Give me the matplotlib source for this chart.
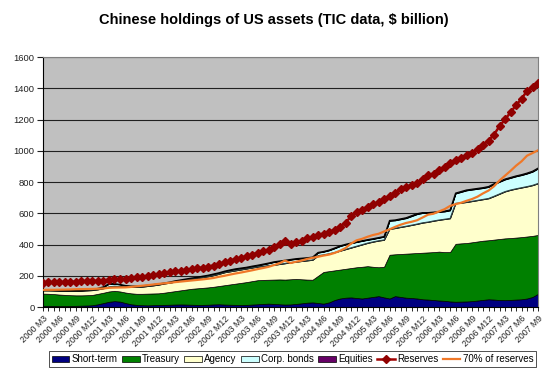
import numpy as np
import matplotlib
matplotlib.use('Agg')
import matplotlib.pyplot as plt

plt.rcParams['font.family'] = ['Liberation Sans', 'DejaVu Sans']

# monthly, 2000 M3 .. 2007 M9
months = []
for y in range(2000, 2008):
    for m in range(1, 13):
        if (y == 2000 and m < 3) or (y == 2007 and m > 9):
            continue
        months.append('%d M%d' % (y, m))

# FX reserves, $ billion
reserves = [157, 158, 158, 159, 160, 161, 163, 164, 165, 166,
            168, 170, 176, 178, 179, 180, 184, 190, 195, 200, 206, 212,
            217, 222, 228, 233, 238, 243, 248, 253, 259, 266, 277, 286,
            297, 307, 316, 326, 336, 347, 357, 368, 384, 401, 425, 403,
            415, 425, 440, 450, 460, 471, 480, 495, 515, 540, 580, 610,
            624, 643, 659, 670, 691, 711, 733, 753, 769, 780, 794, 819,
            845, 854, 875, 895, 925, 941, 954, 972, 988, 1010, 1040, 1066,
            1105, 1158, 1202, 1246, 1293, 1333, 1385, 1409, 1434]

short_term = [8, 8, 7, 6, 6, 7, 8, 9, 10, 12,
              18, 26, 34, 38, 35, 26, 18, 14, 12, 11, 12, 13,
              14, 15, 16, 17, 16, 15, 14, 14, 15, 17, 18, 16,
              15, 14, 13, 14, 16, 18, 20, 22, 20, 18, 16, 17,
              20, 24, 28, 30, 26, 22, 30, 45, 55, 60, 62, 58,
              55, 60, 65, 70, 62, 55, 70, 65, 60, 58, 55, 50,
              48, 45, 42, 40, 36, 34, 35, 36, 38, 42, 46, 50,
              48, 45, 44, 46, 48, 50, 55, 65, 85]

# cumulative levels
treasury_top = [86, 85, 83, 80, 78, 76, 75, 75, 76, 78,
                85, 92, 100, 104, 100, 93, 88, 85, 85, 86, 87, 88,
                92, 97, 102, 107, 112, 117, 120, 123, 126, 130, 135, 140,
                145, 150, 155, 160, 166, 172, 174, 175, 176, 177, 176, 178,
                180, 178, 176, 175, 200, 225, 230, 235, 240, 245, 250, 255,
                258, 262, 258, 255, 258, 335, 338, 340, 342, 344, 346, 348,
                350, 352, 355, 352, 352, 405, 408, 410, 415, 420, 425, 428,
                432, 436, 440, 442, 445, 448, 452, 456, 462]

agency_top = [106, 106, 105, 104, 104, 103, 103, 104, 106, 108,
              113, 120, 130, 134, 133, 130, 128, 128, 130, 134, 138, 143,
              150, 155, 162, 168, 174, 180, 185, 190, 196, 203, 212, 222,
              228, 234, 240, 246, 252, 258, 262, 266, 270, 275, 280, 285,
              290, 294, 298, 302, 330, 335, 342, 350, 360, 370, 380, 390,
              400, 410, 418, 425, 430, 500, 505, 512, 518, 525, 532, 540,
              545, 552, 558, 563, 568, 665, 668, 672, 678, 684, 690, 696,
              710, 725, 740, 750, 758, 765, 772, 780, 792]

total_top = [110, 110, 109, 108, 108, 107, 107, 108, 110, 113,
             120, 130, 150, 150, 145, 138, 135, 134, 136, 140, 144, 148,
             154, 160, 168, 174, 180, 186, 191, 198, 204, 212, 220, 230,
             238, 245, 250, 255, 262, 268, 275, 282, 290, 295, 300, 305,
             310, 313, 316, 320, 350, 356, 365, 378, 392, 402, 410, 418,
             425, 432, 438, 445, 452, 555, 558, 565, 572, 585, 598, 605,
             605, 608, 612, 615, 622, 730, 740, 750, 755, 760, 765, 772,
             790, 805, 820, 830, 840, 848, 858, 870, 890]

equities = [1] * 34 + [2] * 29 + [3] * 28

treasury = np.array(treasury_top) - np.array(short_term)
agency = np.array(agency_top) - np.array(treasury_top)
equities = np.array(equities)
corp_bonds = np.array(total_top) - np.array(agency_top) - equities
reserves70 = 0.7 * np.array(reserves)

x = np.arange(len(months))

fig = plt.figure(figsize=(5.47, 3.74), dpi=100)
ax = fig.add_axes([0.0786, 0.179, 0.905, 0.668])
ax.set_facecolor('#c0c0c0')

ax.stackplot(x, short_term, treasury, agency, corp_bonds, equities,
             colors=['#000080', '#008000', '#ffffcc', '#ccffff', '#660066'],
             labels=['Short-term', 'Treasury', 'Agency', 'Corp. bonds', 'Equities'],
             edgecolor='none', zorder=2)
# thin borders on the upper areas
ax.plot(x, agency_top, color='#203030', lw=0.6, zorder=3)
ax.plot(x, total_top, color='black', lw=0.8, zorder=3)

ax.plot(x, reserves, color='#a00000', lw=1.8, marker='D', ms=4.2,
        mec='#900000', mfc='#900000', label='Reserves', zorder=5)
ax.plot(x, reserves70, color='#f07828', lw=1.6, label='70% of reserves', zorder=4)

ax.set_xlim(0, len(months) - 1)
ax.set_ylim(0, 1600)
ax.set_yticks(range(0, 1601, 200))
ax.yaxis.grid(True, color='#202020', lw=0.8)
ax.set_axisbelow(True)
ax.set_xticks(x, minor=True)
ax.set_xticks(x[::3])
ax.set_xticklabels(months[::3], rotation=45, ha='right', rotation_mode='anchor',
                   fontsize=6.3, color='#222222')
ax.tick_params(axis='x', which='both', length=3, width=0.6, direction='out', pad=2)
ax.tick_params(axis='y', length=4, width=0.8, labelsize=6.8, pad=2, colors='#222222')
for s in ['top', 'right']:
    ax.spines[s].set_color('#808080')
    ax.spines[s].set_linewidth(0.8)
for s in ['left', 'bottom']:
    ax.spines[s].set_color('black')
    ax.spines[s].set_linewidth(0.8)

fig.suptitle('Chinese holdings of US assets (TIC data, $ billion)', fontsize=10.5,
             fontweight='bold', y=0.965)

handles, labels = ax.get_legend_handles_labels()
for h in handles[:5]:
    h.set_edgecolor('black')
    h.set_linewidth(0.5)
leg = fig.legend(handles, labels, loc='center', bbox_to_anchor=(0.535, 0.04), ncol=7,
                 fontsize=7, frameon=True, fancybox=False, edgecolor='black',
                 handlelength=1.8, handleheight=0.6, handletextpad=0.25,
                 columnspacing=0.45, borderpad=0.3, borderaxespad=0)
leg.get_frame().set_linewidth(0.6)

fig.savefig('out.png', dpi=100)
